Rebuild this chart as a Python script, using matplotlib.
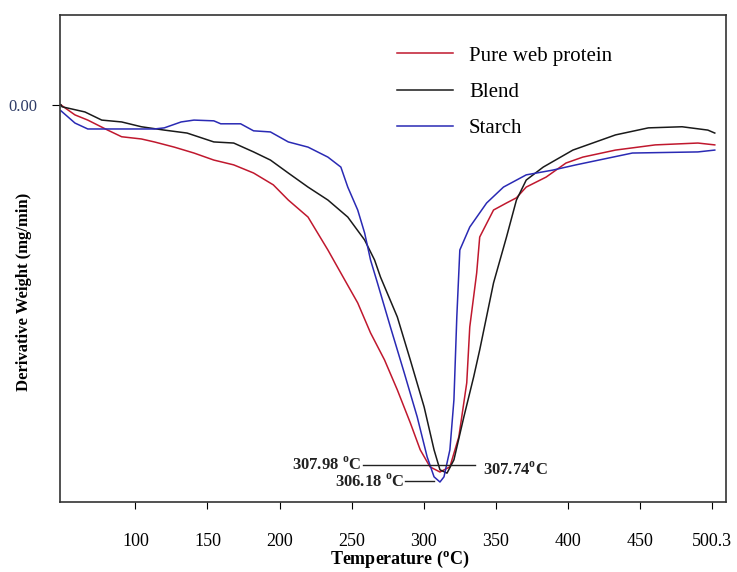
import matplotlib
matplotlib.use('Agg')
import matplotlib.pyplot as plt

plt.rcParams['font.family'] = ['Liberation Serif', 'DejaVu Serif']
plt.rcParams['mathtext.fontset'] = 'custom'
plt.rcParams['mathtext.rm'] = 'Liberation Serif'

# DTG curves: temperature (C) and derivative weight
protein_t = [48.3, 51.1, 58.0, 66.9, 80.7, 90.4, 104.1, 113.1, 126.9, 140.6, 154.4, 168.2, 182.0,
             195.7, 206.1, 219.8, 233.6, 245.3, 254.3, 263.2, 272.9, 281.8, 290.8, 297.7, 304.5,
             311.4, 318.3, 324.5, 330.0, 332.1, 336.9, 339.0, 348.6, 357.6, 364.5, 371.3, 385.1,
             398.9, 410.6, 433.3, 460.9, 490.5, 502.2]
protein_w = [0.000, -0.008, -0.027, -0.041, -0.068, -0.086, -0.092, -0.100, -0.114, -0.130, -0.149,
             -0.162, -0.184, -0.216, -0.257, -0.303, -0.392, -0.473, -0.535, -0.616, -0.689, -0.770,
             -0.859, -0.932, -0.978, -0.992, -0.978, -0.897, -0.751, -0.600, -0.454, -0.357, -0.284,
             -0.265, -0.251, -0.222, -0.195, -0.157, -0.141, -0.122, -0.108, -0.103, -0.108]

blend_t = [48.3, 49.0, 64.9, 76.6, 90.4, 104.1, 120.0, 135.8, 154.4, 168.2, 182.0, 193.7, 206.1,
           219.8, 233.6, 247.4, 259.1, 266.0, 270.1, 281.8, 290.8, 300.4, 307.3, 311.4, 316.3,
           321.1, 328.0, 334.8, 339.0, 348.6, 357.6, 364.5, 371.3, 383.1, 403.7, 433.3, 456.1,
           479.5, 497.4, 502.2]
blend_w = [0.000, -0.005, -0.019, -0.041, -0.046, -0.059, -0.068, -0.076, -0.100, -0.103, -0.127,
           -0.149, -0.184, -0.222, -0.257, -0.303, -0.365, -0.419, -0.465, -0.573, -0.689, -0.816,
           -0.932, -0.986, -0.995, -0.959, -0.843, -0.735, -0.662, -0.481, -0.357, -0.257, -0.203,
           -0.168, -0.122, -0.081, -0.062, -0.059, -0.068, -0.076]

starch_t = [48.3, 58.0, 66.9, 90.4, 113.1, 120.0, 131.7, 140.6, 154.4, 159.2, 173.0, 182.0, 193.7,
            206.1, 219.8, 233.6, 242.6, 247.4, 254.3, 259.1, 263.2, 268.0, 277.0, 286.6, 295.6,
            302.5, 307.3, 311.4, 314.2, 318.3, 321.1, 323.1, 325.2, 332.1, 343.8, 355.5, 371.3,
            389.9, 405.8, 445.0, 490.5, 502.2]
starch_w = [-0.016, -0.049, -0.065, -0.065, -0.065, -0.062, -0.046, -0.041, -0.043, -0.051, -0.051,
            -0.070, -0.073, -0.100, -0.114, -0.141, -0.168, -0.222, -0.284, -0.346, -0.419, -0.481,
            -0.600, -0.724, -0.843, -0.951, -1.005, -1.019, -1.005, -0.932, -0.797, -0.573, -0.392,
            -0.330, -0.265, -0.222, -0.189, -0.176, -0.162, -0.130, -0.127, -0.122]

xticks = [100, 150, 200, 250, 300, 350, 400, 450, 500.3]
xtick_labels = ['100', '150', '200', '250', '300', '350', '400', '450', '500.3']

fig = plt.figure(figsize=(7.37, 5.72), dpi=100)
ax = fig.add_axes([60 / 737, 1 - 502 / 572, 666 / 737, 487 / 572])

ax.plot(protein_t, protein_w, color='#c0182e', lw=1.1, label='Pure web protein')
ax.plot(blend_t, blend_w, color='#1a1a1a', lw=1.1, label='Blend')
ax.plot(starch_t, starch_w, color='#2a2ab4', lw=1.1, label='Starch')

# peak annotations
ax.plot([257.7, 335.5], [-0.973, -0.973], color='#222222', lw=1.0)
ax.plot([287.3, 307.3], [-1.016, -1.016], color='#222222', lw=1.0)
ax.text(256.5, -0.973, r'307.98 $^\mathregular{o}$C', ha='right', va='center',
        fontsize=12, fontweight='bold', color='#222222')
ax.text(341.5, -0.986, r'307.74$^\mathregular{o}$C', ha='left', va='center',
        fontsize=12, fontweight='bold', color='#222222')
ax.text(286.5, -1.019, r'306.18 $^\mathregular{o}$C', ha='right', va='center',
        fontsize=12, fontweight='bold', color='#222222')

ax.set_xlim(47.6, 510)
ax.set_ylim(-1.073, 0.243)
ax.set_xticks(xticks)
ax.set_xticklabels(xtick_labels)
ax.set_yticks([0.0])
ax.set_yticklabels(['0.00'], color='#2e3b66')
ax.tick_params(axis='x', direction='out', length=5, pad=17, labelsize=13)
ax.tick_params(axis='y', direction='out', length=6, pad=10, labelsize=12)

for s in ax.spines.values():
    s.set_color('#333333')
    s.set_linewidth(1.2)

ax.set_xlabel(r'Temperature ($^\mathregular{o}$C)', fontsize=13, fontweight='bold')
ax.xaxis.set_label_coords(0.51, -0.097)
ax.set_ylabel('Derivative Weight (mg/min)', fontsize=12, fontweight='bold')
ax.yaxis.set_label_coords(-0.042, 0.431)

ax.legend(loc='upper left', bbox_to_anchor=((397 - 60) / 666, (502 - 46) / 487),
          frameon=False, fontsize=15, handlelength=2.7, handletextpad=0.75,
          labelspacing=0.8, borderpad=0, borderaxespad=0)

fig.savefig('out.png', dpi=100)
